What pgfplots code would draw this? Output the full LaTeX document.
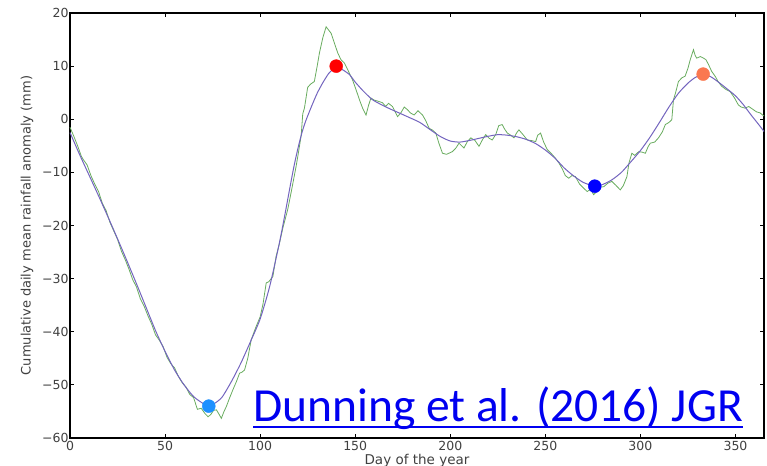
\documentclass[border=0pt]{standalone}
\usepackage{fontspec}
\setmainfont{DejaVu Sans}
\newfontfamily\calib{Carlito}
\usepackage{pgfplots}
\pgfplotsset{compat=1.18}
\definecolor{noisy}{RGB}{105,172,95}
\definecolor{smoothc}{RGB}{115,100,190}
\definecolor{lblue}{RGB}{30,144,255}
\definecolor{coralc}{RGB}{250,120,80}
\definecolor{linkblue}{RGB}{0,0,240}
\begin{document}
\begin{tikzpicture}
\useasboundingbox (-70bp,-28bp) rectangle (697bp,438bp);
\begin{axis}[
    scale only axis,
    width=694bp,height=425bp,
    xmin=0,xmax=365,ymin=-60,ymax=20,
    xtick={0,50,...,350},
    ytick={-60,-50,...,20},
    yticklabels={−60,−50,−40,−30,−20,−10,0,10,20},
    axis line style={line width=1.3bp},
    major tick style={line width=1bp,black},
    major tick length=4bp,
    tick label style={font=\fontsize{12.5bp}{14bp}\selectfont, black!75},
    /pgf/number format/assume math mode=true,
    xticklabel style={yshift=0.5bp},
    yticklabel style={xshift=2bp},
    xlabel={Day of the year},
    ylabel={Cumulative daily mean rainfall anomaly (mm)},
    xlabel style={font=\fontsize{13.5bp}{15bp}\selectfont, black!75, at={(axis description cs:0.5,-0.053)}, anchor=center},
    ylabel style={font=\fontsize{13bp}{15bp}\selectfont, black!75, at={(axis description cs:-0.062,0.5)}, anchor=center},
    clip=false
]
% daily series
\addplot[noisy, line width=0.8bp] coordinates {
(0,-1.5)(2,-3.2)(4,-5.0)(6,-7.0)(7,-7.6)(9,-8.6)(11,-10.6)(13,-12.2)(15,-13.6)(17,-15.8)(19,-17.2)(21,-19.4)(23,-21.0)(25,-22.6)(27,-24.8)(29,-26.4)(31,-28.2)(33,-30.2)(35,-31.6)(37,-33.8)(39,-35.2)(41,-37.0)(43,-38.6)(45,-40.6)(47,-41.6)(49,-42.8)(51,-44.8)(53,-46.0)(55,-46.8)(57,-48.4)(59,-49.6)(61,-50.4)(63,-51.8)(65,-52.4)(67,-54.6)(69,-54.4)(71,-55.4)(72.6,-56.0)(74,-55.6)(75.5,-54.8)(77,-54.7)(78.5,-55.6)(79.6,-56.3)(81,-55.0)(82.2,-54.1)(84,-52.4)(85.7,-50.9)(87.5,-49.4)(89.2,-47.8)(90.5,-47.6)(91.8,-47.2)(93.5,-45.0)(95.3,-41.5)(97.9,-39.0)(100,-37.2)(101.5,-34.8)(103.2,-30.8)(104.5,-30.6)(106.7,-29.6)(108.4,-25.8)(110,-23.6)(112,-20.4)(114.5,-17.0)(116.5,-13.4)(118.9,-8.9)(120,-6.6)(121.6,-3.0)(122.4,1.0)(123.3,2.1)(125,6.0)(126.5,6.6)(128.5,7.1)(130,10.0)(131.2,12.5)(133,15.4)(134.7,17.4)(136,16.8)(137.3,16.2)(139,14.4)(140.8,12.5)(142.5,11.2)(144.3,10.6)(146.9,8.7)(148.6,7.4)(150.4,5.6)(152.5,3.4)(154,2.0)(155.7,0.8)(157,2.6)(158.3,4.0)(160,3.6)(162,3.4)(164.4,3.1)(166,2.4)(167.5,3.0)(169.6,2.4)(171,1.4)(172.3,0.5)(174,1.2)(175.8,2.3)(177.5,1.8)(179,1.2)(181,0.8)(183,1.6)(185.4,0.8)(187,-0.2)(188.9,-1.7)(190.5,-2.0)(192.4,-2.6)(194,-4.5)(195.9,-6.4)(198,-6.6)(201.1,-6.1)(203,-5.4)(204.6,-4.5)(206,-5.0)(207.2,-5.4)(209,-4.2)(210.8,-3.5)(213,-4.0)(215.1,-5.1)(217,-3.8)(218.6,-2.9)(220.5,-3.6)(222.1,-3.9)(224,-2.8)(225.5,-1.2)(227.3,-1.0)(228.5,-1.8)(230,-2.6)(231.8,-3.0)(233.5,-3.5)(235,-2.5)(236.1,-2.0)(238.5,-3.0)(240.5,-3.9)(242.5,-4.0)(244.9,-4.2)(246,-3.0)(247.5,-2.6)(249,-4.2)(251,-5.7)(253,-6.4)(255,-7.2)(257.1,-8.2)(259,-9.4)(260.5,-10.6)(262.3,-11.1)(264,-10.6)(265.8,-10.8)(268,-12.2)(270.2,-13.0)(272,-13.6)(273.8,-13.2)(275.4,-14.2)(277,-13.6)(278.5,-12.8)(280.7,-12.7)(283,-12.0)(285,-11.7)(287,-12.4)(289.4,-13.3)(291,-12.5)(292.9,-10.8)(294,-8.2)(295.5,-6.4)(297,-6.8)(299.1,-6.1)(301,-6.2)(302.6,-6.4)(304,-5.2)(305.2,-4.5)(307.5,-4.3)(309.5,-3.5)(311.5,-2.4)(313.1,-1.0)(315,-0.6)(316.5,-0.1)(317.4,3.7)(318.5,5.0)(320,7.1)(321.8,7.8)(323.5,8.1)(325,9.6)(326.2,11.2)(327.9,13.1)(328.8,12.0)(329.6,11.5)(331.5,11.8)(333.2,11.5)(334.5,11.2)(335.8,10.3)(337.5,9.0)(339.3,8.1)(341,7.0)(342.8,6.2)(345,5.6)(347.2,5.2)(349.5,4.0)(351.5,2.7)(353,2.3)(355,2.1)(357,2.4)(359.4,1.8)(361,1.4)(362.9,1.2)(365,0.6)
};
% smoothed series
\addplot[smoothc, line width=1bp, smooth, tension=0.4] coordinates {
(0,-2.5)(5,-6.6)(10,-10.5)(15,-14.4)(20,-18.4)(25,-22.5)(30,-26.7)(35,-31.0)(40,-35.4)(45,-39.8)(50,-43.7)(55,-47.2)(60,-50.0)(65,-52.2)(70,-53.5)(73,-53.8)(76,-53.5)(80,-52.3)(85,-49.3)(90,-45.8)(95,-41.8)(100,-37.6)(105,-31.5)(110,-23.5)(113,-18.0)(116,-12.2)(118,-8.5)(120,-5.3)(122,-2.5)(124,-0.3)(127,2.4)(130,4.9)(133,6.9)(136,8.6)(138,9.3)(140,9.7)(143,9.4)(147,8.4)(150,7.0)(154,5.4)(159,3.7)(164,2.7)(168,2.0)(173,1.2)(178,0.4)(184,-0.6)(190,-2.1)(195,-3.3)(200,-4.1)(205,-4.3)(210,-4.0)(215,-3.6)(220,-3.2)(225,-2.9)(230,-3.0)(235,-3.3)(240,-3.8)(245,-4.6)(250,-5.8)(255,-7.3)(260,-9.2)(265,-10.7)(270,-11.9)(276,-12.6)(280,-12.3)(285,-11.4)(290,-10.0)(295,-8.0)(300,-5.9)(305,-3.4)(310,-0.6)(315,2.3)(320,4.9)(325,6.8)(329,7.9)(333,8.4)(337,8.0)(341,7.0)(346,5.6)(350,4.4)(354,2.8)(358,0.9)(362,-0.9)(365,-2.3)
};
\addplot[only marks, mark=*, mark size=6.5bp, lblue, mark options={draw=lblue}] coordinates {(73,-54.0)};
\addplot[only marks, mark=*, mark size=6.5bp, red, mark options={draw=red}] coordinates {(140,10.0)};
\addplot[only marks, mark=*, mark size=6.5bp, blue, mark options={draw=blue}] coordinates {(276,-12.6)};
\addplot[only marks, mark=*, mark size=6.5bp, coralc, mark options={draw=coralc}] coordinates {(333,8.5)};
\end{axis}
\node[anchor=base west, inner sep=0pt, text=linkblue, font=\calib\fontsize{47.5bp}{50bp}\selectfont] (cite) at (183bp,16.3bp) {Dunning et al. (2016) JGR};
\draw[linkblue, line width=2.3bp] ([yshift=-5.5bp]cite.base west) -- ([yshift=-5.5bp]cite.base east);
\end{tikzpicture}
\end{document}
